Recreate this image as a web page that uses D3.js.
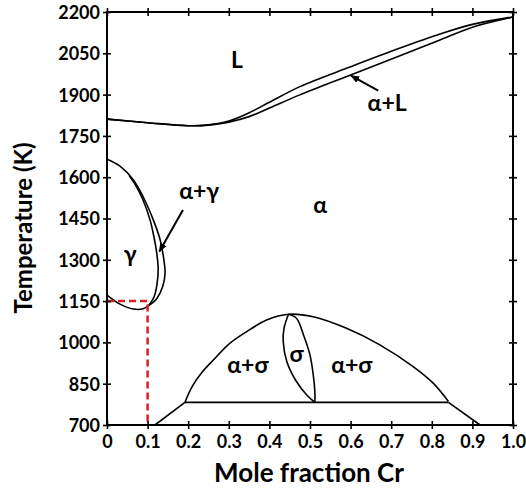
<!DOCTYPE html>
<html>
<head>
<meta charset="utf-8">
<script src="https://cdn.jsdelivr.net/npm/d3@7"></script>
<style>
  html, body { margin: 0; padding: 0; background: #fff; }
  svg { display: block; }
  text { font-family: Lato, "Open Sans", "DejaVu Sans", sans-serif; font-weight: 700; fill: #000; }
</style>
</head>
<body>
<svg id="chart" width="526" height="488"></svg>
<script>
// Fe–Cr binary phase diagram

// Axis ticks
const xTicks = [0, 0.1, 0.2, 0.3, 0.4, 0.5, 0.6, 0.7, 0.8, 0.9, 1.0];
const xTickLabels = ["0", "0.1", "0.2", "0.3", "0.4", "0.5", "0.6", "0.7", "0.8", "0.9", "1.0"];
const yTicks = [700, 850, 1000, 1150, 1300, 1450, 1600, 1750, 1900, 2050, 2200];

// Liquidus (upper) and solidus (lower): [mole fraction Cr, T in K]
const liquidus = [[0, 1811], [0.1, 1798], [0.2, 1787], [0.25, 1790], [0.3, 1804], [0.35, 1834],
                  [0.4, 1872], [0.475, 1929], [0.6, 2001], [0.72, 2068], [0.82, 2120], [0.9, 2155], [1.0, 2182]];
const solidus  = [[0, 1811], [0.1, 1798], [0.2, 1787], [0.25, 1789], [0.3, 1800], [0.35, 1820],
                  [0.4, 1851], [0.475, 1899], [0.6, 1971], [0.72, 2040], [0.82, 2098], [0.9, 2145], [1.0, 2182]];

// γ loop: outer boundary (α / α+γ) and inner boundary (γ / α+γ)
const gammaOuter = [[0, 1172], [0.032, 1139], [0.065, 1121], [0.089, 1122], [0.102, 1133], [0.122, 1158],
                    [0.137, 1202], [0.143, 1251], [0.139, 1311], [0.131, 1372], [0.114, 1445],
                    [0.089, 1529], [0.065, 1590], [0.032, 1640], [0, 1665]];
const gammaInner = [[0.102, 1133], [0.116, 1166], [0.123, 1210], [0.126, 1270], [0.122, 1330],
                    [0.116, 1380], [0.106, 1445], [0.088, 1520], [0.07, 1572], [0.055, 1605]];

// σ phase region
const sigmaDome = [[0.192, 782], [0.21, 840], [0.235, 893], [0.262, 936], [0.303, 997], [0.344, 1039],
                   [0.393, 1081], [0.447, 1102], [0.508, 1093], [0.59, 1051], [0.672, 991],
                   [0.754, 912], [0.804, 851], [0.841, 785]];
const sigmaLeft  = [[0.447, 1102], [0.436, 1051], [0.434, 1003], [0.443, 930], [0.467, 857], [0.492, 809], [0.512, 782]];
const sigmaRight = [[0.447, 1102], [0.467, 1087], [0.484, 1027], [0.5, 954], [0.508, 882], [0.512, 821], [0.512, 782]];
const eutectoid  = [[0.192, 782], [0.841, 782]];
const lowerLeft  = [[0.118, 700], [0.192, 782]];
const lowerRight = [[0.841, 782], [0.919, 700]];

// Reference composition / temperature guide
const guide = [[0, 1150], [0.1, 1150], [0.1, 700]];

// Phase field labels: [text, x, T]
const phaseLabels = [["L", 0.32, 1997], ["α", 0.525, 1470], ["γ", 0.057, 1292], ["α+γ", 0.227, 1521],
                     ["α+L", 0.69, 1840], ["σ", 0.467, 930], ["α+σ", 0.347, 889], ["α+σ", 0.603, 889]];
// Leader arrows: [from, to]
const arrows = [[[0.668, 1914], [0.601, 1969]], [[0.187, 1481], [0.129, 1330]]];

const svg = d3.select("#chart");
const x = d3.scaleLinear().domain([0, 1]).range([107, 513]);
const y = d3.scaleLinear().domain([700, 2200]).range([425, 12]);

svg.append("defs").append("marker")
  .attr("id", "head").attr("viewBox", "0 0 10 10").attr("refX", 9).attr("refY", 5)
  .attr("markerWidth", 9).attr("markerHeight", 9).attr("markerUnits", "userSpaceOnUse")
  .attr("orient", "auto")
  .append("path").attr("d", "M0,1 L10,5 L0,9 Z").attr("fill", "#000");

const plot = svg.append("g");

const lineSmooth = d3.line().x(d => x(d[0])).y(d => y(d[1])).curve(d3.curveCatmullRom.alpha(0.5));
const lineStraight = d3.line().x(d => x(d[0])).y(d => y(d[1]));

const curves = plot.append("g").attr("fill", "none").attr("stroke", "#000").attr("stroke-width", 1.6);
[liquidus, solidus, gammaOuter, gammaInner, sigmaDome, sigmaLeft, sigmaRight]
  .forEach(pts => curves.append("path").attr("d", lineSmooth(pts)));
[eutectoid, lowerLeft, lowerRight]
  .forEach(pts => curves.append("path").attr("d", lineStraight(pts)));

plot.append("path").attr("d", lineStraight(guide))
  .attr("fill", "none").attr("stroke", "#d62024").attr("stroke-width", 2.5)
  .attr("stroke-dasharray", "7,4");

plot.selectAll(".arrow").data(arrows).join("line").attr("class", "arrow")
  .attr("x1", d => x(d[0][0])).attr("y1", d => y(d[0][1]))
  .attr("x2", d => x(d[1][0])).attr("y2", d => y(d[1][1]))
  .attr("stroke", "#000").attr("stroke-width", 2).attr("marker-end", "url(#head)");

plot.selectAll(".phase").data(phaseLabels).join("text").attr("class", "phase")
  .attr("x", d => x(d[1])).attr("y", d => y(d[2]))
  .attr("text-anchor", "middle").attr("font-size", 23)
  .text(d => d[0]);

// Frame with crossing ticks on all four sides
svg.append("rect").attr("x", 107).attr("y", 12).attr("width", 406).attr("height", 413)
  .attr("fill", "none").attr("stroke", "#000").attr("stroke-width", 2);

const axisB = svg.append("g").attr("transform", "translate(0,425)")
  .call(d3.axisBottom(x).tickValues(xTicks).tickSize(4).tickFormat((d, i) => xTickLabels[i]));
const axisT = svg.append("g").attr("transform", "translate(0,12)")
  .call(d3.axisTop(x).tickValues(xTicks).tickSize(4).tickFormat(""));
const axisL = svg.append("g").attr("transform", "translate(107,0)")
  .call(d3.axisLeft(y).tickValues(yTicks).tickSize(4).tickFormat(d3.format("d")));
const axisR = svg.append("g").attr("transform", "translate(513,0)")
  .call(d3.axisRight(y).tickValues(yTicks).tickSize(4).tickFormat(""));

[axisB, axisT, axisL, axisR].forEach(g => {
  g.select(".domain").remove();
  g.selectAll(".tick line").attr("stroke", "#000").attr("stroke-width", 1.6);
  g.attr("font-family", null).attr("font-size", null);
});
axisB.selectAll(".tick line").attr("y1", -4).attr("y2", 4);
axisT.selectAll(".tick line").attr("y1", -4).attr("y2", 4);
axisL.selectAll(".tick line").attr("x1", -4).attr("x2", 4);
axisR.selectAll(".tick line").attr("x1", -4).attr("x2", 4);

axisB.selectAll(".tick text").attr("y", 10).attr("dy", "0.71em")
  .attr("font-size", 18).attr("fill", "#000");
axisL.selectAll(".tick text").attr("x", -7).attr("dy", "0.36em")
  .attr("font-size", 18).attr("fill", "#000");

svg.append("text").attr("x", 309).attr("y", 482).attr("text-anchor", "middle")
  .attr("font-size", 26).text("Mole fraction Cr");
svg.append("text").attr("transform", "translate(32,228) rotate(-90)").attr("text-anchor", "middle")
  .attr("font-size", 24).text("Temperature (K)");
</script>
</body>
</html>
